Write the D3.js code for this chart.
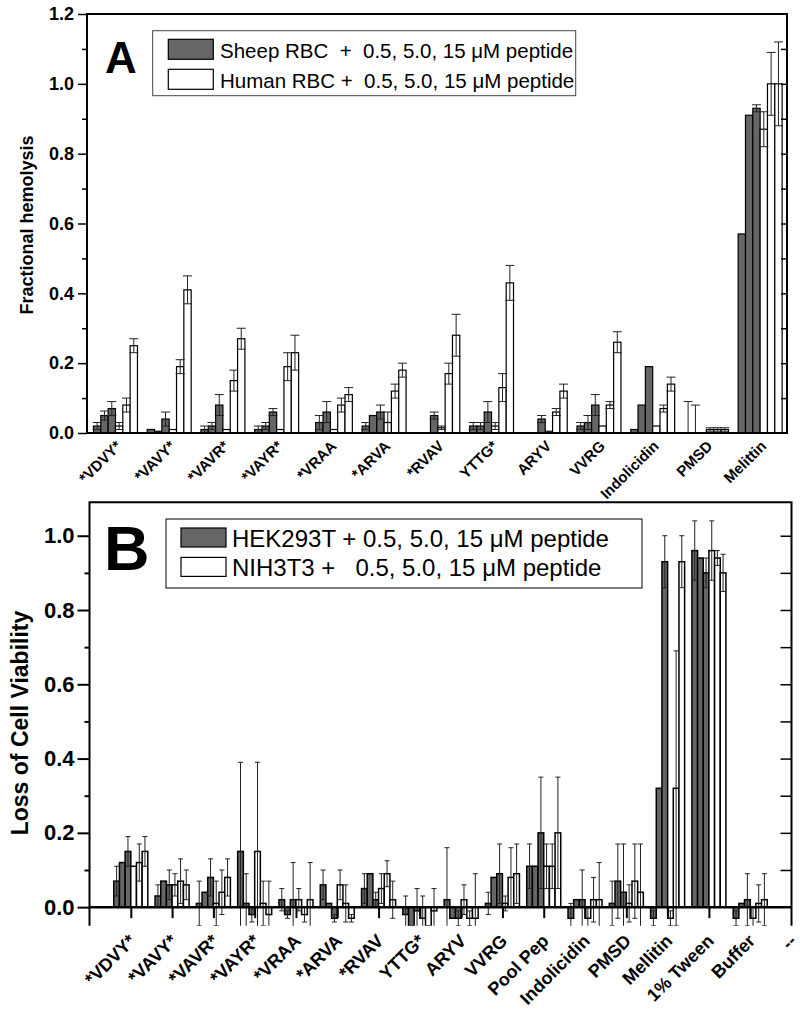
<!DOCTYPE html>
<html><head><meta charset="utf-8">
<script src="https://cdn.jsdelivr.net/npm/d3@7"></script>
<style>
body{margin:0;background:#fff}
svg text{font-family:'Liberation Sans',Arial,Helvetica,sans-serif}
</style>
</head><body>
<svg id="c" width="800" height="1012"></svg>
<script>
// ---------- Panel A data ----------
const catsA = ["*VDVY*","*VAVY*","*VAVR*","*VAYR*","*VRAA","*ARVA","*RVAV","YTTG*","ARYV","VVRG","Indolicidin","PMSD","Melittin"];
const sheepA = [[0.02,0.05,0.07],[0.01,0.005,0.04],[0.01,0.02,0.08],[0.01,0.02,0.06],[0,0.03,0.06],[0.02,0.05,0.06],[0,0,0.05],[0.02,0.02,0.06],[0,0,0.04],[0.02,0.03,0.08],[0.01,0.08,0.19],[0,0,0],[0.57,0.91,0.93]];
const sheepErrA = [[0.01,0.013,0.02],[0,0,0.02],[0.01,0.01,0.03],[0.01,0.01,0.01],[0,0.02,0.03],[0.01,0,0.02],[0,0,0.01],[0.01,0.01,0.03],[0,0,0.01],[0.01,0.02,0.03],[0,0,0],[0.09,0.08,0],[0,0,0.01]];
const humanA = [[0.02,0.08,0.25],[0.01,0.19,0.41],[0.01,0.15,0.27],[0.01,0.19,0.23],[0.01,0.08,0.11],[0.03,0.12,0.18],[0.015,0.17,0.28],[0.02,0.13,0.43],[0.005,0.06,0.12],[0.02,0.08,0.26],[0.02,0.07,0.14],[0.01,0.01,0.01],[0.87,1.0,1.0]];
const humanErrA = [[0.01,0.02,0.02],[0,0.02,0.04],[0,0.03,0.03],[0,0.04,0.05],[0,0.02,0.02],[0.03,0.02,0.02],[0.005,0.03,0.06],[0.01,0.04,0.05],[0,0.01,0.02],[0,0.01,0.03],[0,0.01,0.02],[0.005,0.005,0.005],[0.05,0.09,0.12]];
const yTicksA = [0,0.2,0.4,0.6,0.8,1.0,1.2];
const yMinorA = [0.1,0.3,0.5,0.7,0.9,1.1];
const legendA = ["Sheep RBC  +  0.5, 5.0, 15 \u03BCM peptide","Human RBC +  0.5, 5.0, 15 \u03BCM peptide"];

// ---------- Panel B data ----------
const catsB = ["*VDVY*","*VAVY*","*VAVR*","*VAYR*","*VRAA","*ARVA","*RVAV","YTTG*","ARYV","VVRG","Pool Pep","Indolicidin","PMSD","Mellitin","1% Tween","Buffer","--"];
const hekB = [[0.07,0.12,0.15],[0.03,0.07,0.06],[0.01,0.04,0.08],[0.15,0.01,-0.02],[0.02,-0.02,0.02],[0.06,0.01,-0.03],[0.05,0.09,0.02],[-0.02,-0.07,-0.01],[0.02,-0.03,-0.03],[0.01,0.08,0.09],[0.11,0.11,0.2],[-0.03,0.02,0.02],[0.01,0.07,0.04],[-0.03,0.32,0.93],[0.96,0.94,0.9],[-0.03,0.01,0.02]];
const hekErrB = [[0.04,0,0.04],[0.03,0,0.04],[0.06,0,0.05],[0.24,0.08,0.02],[0.03,0.01,0.1],[0.04,0,0.01],[0.04,0,0.02],[0.05,0.02,0.06],[0.14,0,0.02],[0.03,0,0.08],[0.06,0,0.15],[0.04,0,0.08],[0.06,0.1,0.13],[0.02,0,0.07],[0.08,0,0.04],[0.02,0,0.07]];
const nihB = [[0.11,0.12,0.15],[0.06,0.07,0.06],[0.01,0.04,0.08],[0.15,0.01,-0.02],[0.02,-0.02,0.02],[0.06,0.01,-0.03],[0.05,0.09,0.02],[-0.03,-0.07,-0.01],[0.02,-0.03,-0.03],[0.01,0.08,0.09],[0.11,0.11,0.2],[-0.03,0.02,0.02],[0.01,0.07,0.04],[-0.03,0.32,0.93],[0.96,0.94,0.9],[-0.03,0.01,0.02]];
const nihErrB = [[0,0.05,0.04],[0.03,0.06,0.04],[0.06,0.06,0.05],[0.24,0.06,0.09],[0.03,0.02,0.1],[0.04,0.05,0.01],[0.04,0.035,0.05],[0.06,0.02,0.06],[0.04,0.02,0.12],[0.02,0.08,0.08],[0.06,0.06,0.15],[0.03,0.06,0.1],[0.05,0.1,0.13],[0.02,0.37,0.07],[0.08,0.02,0.05],[0.03,0.05,0.07]];
const yTicksB = [0,0.2,0.4,0.6,0.8,1.0];
const yMinorB = [0.1,0.3,0.5,0.7,0.9];
const legendB = ["HEK293T + 0.5, 5.0, 15 \u03BCM peptide","NIH3T3 +   0.5, 5.0, 15 \u03BCM peptide"];

const GRAY = "#666666";
const svg = d3.select("#c");
const defs = svg.append("defs");

function drawBars(g, x, y, pos, series, bwUnits, sw, capW) {
  const bw = x(bwUnits) - x(0);
  const rows = [];
  series.forEach((s, si) => {
    s.vals.forEach((arr, i) => arr.forEach((v, k) => {
      rows.push({cx: x(pos(i)) + (si*3 + k - 2.5) * bw, v, e: s.errs[i][k], fill: s.fill});
    }));
  });
  g.append("g").selectAll("rect").data(rows.filter(d => d.v !== 0)).join("rect")
    .attr("x", d => d.cx - bw/2).attr("width", bw)
    .attr("y", d => Math.min(y(d.v), y(0))).attr("height", d => Math.abs(y(d.v) - y(0)))
    .attr("fill", d => d.fill).attr("stroke", "#000").attr("stroke-width", sw);
  const eg = g.append("g").attr("stroke", "#222").attr("stroke-width", 1);
  const eb = rows.filter(d => d.e > 0);
  eg.selectAll("line.v").data(eb).join("line").attr("class","v")
    .attr("x1", d => d.cx).attr("x2", d => d.cx)
    .attr("y1", d => y(d.v + d.e)).attr("y2", d => y(d.v - d.e));
  eg.selectAll("line.t").data(eb).join("line").attr("class","t")
    .attr("x1", d => d.cx - capW/2).attr("x2", d => d.cx + capW/2)
    .attr("y1", d => y(d.v + d.e)).attr("y2", d => y(d.v + d.e));
  eg.selectAll("line.b").data(eb).join("line").attr("class","b")
    .attr("x1", d => d.cx - capW/2).attr("x2", d => d.cx + capW/2)
    .attr("y1", d => y(d.v - d.e)).attr("y2", d => y(d.v - d.e));
}

function styleTicks(sel, fs, sw) {
  sel.select(".domain").remove();
  sel.selectAll("line").attr("stroke", "#000").attr("stroke-width", sw);
  sel.selectAll("text").attr("font-size", fs).attr("font-weight", "bold").attr("fill", "#000")
    .attr("font-family", "'Liberation Sans',Arial,sans-serif");
}

// ================= Panel A =================
(function(){
  const L = 87, R = 787, T = 14, B = 433;
  const x = d3.scaleLinear().domain([-0.53, 12.5]).range([L, R]);
  const y = d3.scaleLinear().domain([0, 1.2]).range([B, T]);
  defs.append("clipPath").attr("id", "clipA").append("rect")
    .attr("x", L).attr("y", T).attr("width", R - L).attr("height", B - T);
  const g = svg.append("g");
  const inner = g.append("g").attr("clip-path", "url(#clipA)");
  drawBars(inner, x, y, i => i, [
    {vals: sheepA, errs: sheepErrA, fill: GRAY},
    {vals: humanA, errs: humanErrA, fill: "#fff"}
  ], 0.1364, 1.2, 9);

  g.append("rect").attr("x", L).attr("y", T).attr("width", R - L).attr("height", B - T)
    .attr("fill", "none").attr("stroke", "#000").attr("stroke-width", 2);
  g.append("g").attr("transform", `translate(${L},0)`)
    .call(d3.axisLeft(y).tickValues(yTicksA).tickSize(9).tickPadding(4).tickFormat(d3.format(".1f")))
    .call(s => styleTicks(s, 18, 1.5));
  g.append("g").attr("transform", `translate(${L},0)`)
    .call(d3.axisLeft(y).tickValues(yMinorA).tickSize(5).tickFormat(""))
    .call(s => styleTicks(s, 18, 1.5));
  g.append("g").attr("transform", `translate(${R},0)`)
    .call(d3.axisLeft(y).tickValues(yTicksA.concat(yMinorA).filter(v => v > 0 && v < 1.2)).tickSize(6).tickFormat(""))
    .call(s => styleTicks(s, 18, 1.5));

  g.append("g").selectAll("text").data(catsA).join("text")
    .attr("transform", (d, i) => `translate(${x(i) + 7},447) rotate(-45)`)
    .attr("text-anchor", "end").attr("font-size", 15).attr("font-weight", "bold").text(d => d);

  g.append("text").attr("transform", "translate(33,225) rotate(-90)").attr("text-anchor", "middle")
    .attr("font-size", 18).attr("font-weight", "bold").text("Fractional hemolysis");
  g.append("text").attr("x", 105).attr("y", 73).attr("font-size", 44).attr("font-weight", "bold").text("A");

  const lg = g.append("g");
  lg.append("rect").attr("x", 152.7).attr("y", 30.7).attr("width", 423).attr("height", 65)
    .attr("fill", "#fff").attr("stroke", "#444").attr("stroke-width", 1);
  lg.selectAll("rect.sw").data(legendA).join("rect").attr("class", "sw")
    .attr("x", 168.3).attr("y", (d, i) => 39.3 + i * 30).attr("width", 45).attr("height", 20)
    .attr("fill", (d, i) => i ? "#fff" : GRAY).attr("stroke", "#000").attr("stroke-width", 1.2);
  lg.selectAll("text").data(legendA).join("text")
    .attr("x", 220).attr("y", (d, i) => 58 + i * 30).attr("font-size", 20.5)
    .style("white-space", "pre").text(d => d);
})();

// ================= Panel B =================
(function(){
  const L = 89.5, R = 791.5, T = 502.3, B = 925.7;
  const x = d3.scaleLinear().domain([0, 17]).range([L, R]);
  const y = d3.scaleLinear().domain([-0.05, 1.09]).range([B, T]);
  defs.append("clipPath").attr("id", "clipB").append("rect")
    .attr("x", L).attr("y", T).attr("width", R - L).attr("height", B - T);
  const g = svg.append("g");
  const inner = g.append("g").attr("clip-path", "url(#clipB)");
  drawBars(inner, x, y, i => i + 1, [
    {vals: hekB, errs: hekErrB, fill: GRAY},
    {vals: nihB, errs: nihErrB, fill: "#fff"}
  ], 0.1373, 1.5, 5);

  g.append("path").attr("d", `M${L},${B}V${T}H${R}V${B}`).attr("fill", "none")
    .attr("stroke", "#000").attr("stroke-width", 2);
  g.append("g").attr("transform", `translate(0,${y(0)})`)
    .call(d3.axisBottom(x).tickValues(d3.range(1, 17)).tickSize(11).tickFormat(""))
    .call(s => { s.select(".domain").attr("stroke", "#000").attr("stroke-width", 2.5).attr("d", `M${L},0H${R}`);
                 s.selectAll("line").attr("stroke", "#000").attr("stroke-width", 2); });

  g.append("g").attr("transform", `translate(${L},0)`)
    .call(d3.axisLeft(y).tickValues(yTicksB).tickSize(12).tickPadding(3).tickFormat(d3.format(".1f")))
    .call(s => styleTicks(s, 22, 2));
  g.append("g").attr("transform", `translate(${L},0)`)
    .call(d3.axisLeft(y).tickValues(yMinorB).tickSize(5).tickFormat(""))
    .call(s => styleTicks(s, 22, 2));
  g.append("g").attr("transform", `translate(${R},0)`)
    .call(d3.axisLeft(y).tickValues(yTicksB.concat(yMinorB).filter(v => v > 0)).tickSize(11).tickFormat(""))
    .call(s => styleTicks(s, 22, 1.5));

  g.append("g").selectAll("text").data(catsB).join("text")
    .attr("transform", (d, i) => `translate(${x(i + 1) + 6},942) rotate(-45)`)
    .attr("text-anchor", "end").attr("font-size", 18).attr("font-weight", "bold").text(d => d);

  g.append("text").attr("transform", "translate(28,723) rotate(-90)").attr("text-anchor", "middle")
    .attr("font-size", 23).attr("font-weight", "bold").text("Loss of Cell Viability");
  g.append("text").attr("x", 104).attr("y", 570).attr("font-size", 63).attr("font-weight", "bold").text("B");

  const lg = g.append("g");
  lg.append("rect").attr("x", 166).attr("y", 519).attr("width", 476).attr("height", 69)
    .attr("fill", "#fff").attr("stroke", "#000").attr("stroke-width", 1);
  lg.selectAll("rect.sw").data(legendB).join("rect").attr("class", "sw")
    .attr("x", 181).attr("y", (d, i) => 528 + i * 29.4).attr("width", 45).attr("height", 19)
    .attr("fill", (d, i) => i ? "#fff" : GRAY).attr("stroke", "#000").attr("stroke-width", 1.2);
  lg.selectAll("text").data(legendB).join("text")
    .attr("x", 232).attr("y", (d, i) => 547 + i * 29.4).attr("font-size", 24)
    .style("white-space", "pre").text(d => d);
})();
</script>
</body></html>
